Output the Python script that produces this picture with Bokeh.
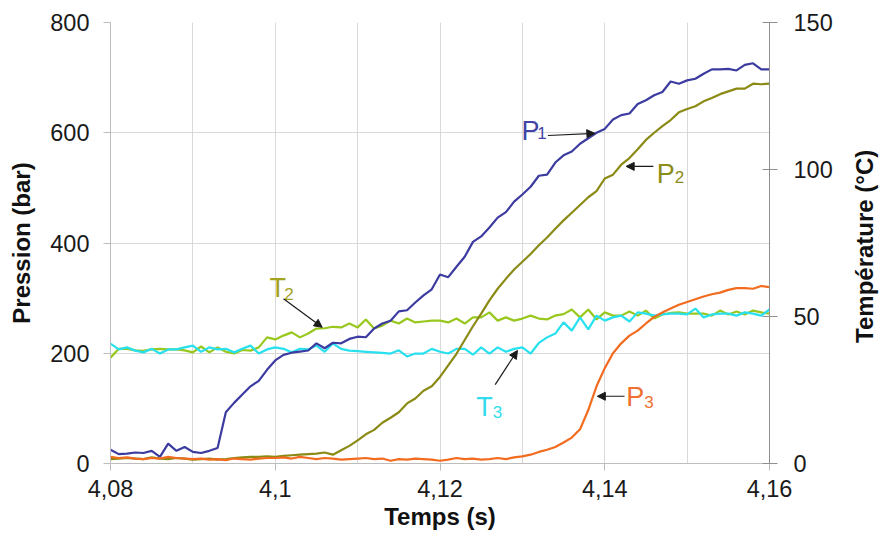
from bokeh.plotting import figure
from bokeh.layouts import row
from bokeh.models import (Range1d, LinearAxis, FixedTicker, Arrow, NormalHead,
                          ColumnDataSource)
from bokeh.core.properties import value
from bokeh.embed import file_html
from bokeh.resources import INLINE

# ---------------- data ----------------
time_s = [4.080, 4.081, 4.082, 4.083, 4.084, 4.085, 4.086, 4.087, 4.088, 4.089,
          4.090, 4.091, 4.092, 4.093, 4.094, 4.095, 4.096, 4.097, 4.098, 4.099,
          4.100, 4.101, 4.102, 4.103, 4.104, 4.105, 4.106, 4.107, 4.108, 4.109,
          4.110, 4.111, 4.112, 4.113, 4.114, 4.115, 4.116, 4.117, 4.118, 4.119,
          4.120, 4.121, 4.122, 4.123, 4.124, 4.125, 4.126, 4.127, 4.128, 4.129,
          4.130, 4.131, 4.132, 4.133, 4.134, 4.135, 4.136, 4.137, 4.138, 4.139,
          4.140, 4.141, 4.142, 4.143, 4.144, 4.145, 4.146, 4.147, 4.148, 4.149,
          4.150, 4.151, 4.152, 4.153, 4.154, 4.155, 4.156, 4.157, 4.158, 4.159,
          4.160]

p1_bar = [25, 17, 18, 20, 19, 23, 12, 36, 23, 30,
          21, 19, 23, 28, 93, 110, 125, 140, 150, 170,
          187, 197, 201, 203, 205, 218, 209, 219, 218, 226,
          230, 229, 245, 254, 259, 276, 278, 292, 305, 316,
          343, 338, 357, 375, 402, 412, 428, 446, 456, 475,
          488, 502, 522, 524, 546, 559, 566, 580, 590, 600,
          607, 624, 632, 635, 652, 659, 668, 674, 693, 689,
          695, 698, 707, 715, 715, 716, 713, 723, 726, 715,
          715]

p2_bar = [8, 9, 10, 9, 8, 11, 9, 8, 10, 9,
          7, 8, 9, 7, 8, 10, 11, 12, 12, 13,
          12, 14, 15, 16, 17, 18, 20, 16, 24, 32,
          42, 53, 61, 74, 83, 93, 109, 118, 132, 140,
          157, 178, 199, 224, 249, 272, 296, 317, 335, 352,
          366, 380, 396, 410, 426, 441, 455, 469, 483, 494,
          517, 524, 542, 554, 570, 587, 600, 612, 623, 637,
          643, 648, 657, 663, 670, 675, 680, 680, 689, 688,
          689]

p3_bar = [12, 10, 11, 9, 8, 10, 9, 12, 10, 9,
          8, 9, 7, 8, 6, 9, 8, 7, 9, 10,
          10, 11, 9, 12, 10, 8, 10, 9, 7, 8,
          9, 10, 8, 9, 5, 8, 7, 9, 8, 7,
          5, 7, 10, 8, 9, 7, 8, 10, 8, 11,
          13, 16, 21, 25, 30, 38, 47, 62, 97, 140,
          173, 200, 218, 232, 241, 254, 266, 274, 281, 288,
          293, 298, 303, 307, 310, 315, 318, 318, 317, 322,
          320]

t2_degc = [36.0, 39.0, 39.0, 38.5, 38.3, 38.8, 39.0, 38.8, 38.8, 38.5,
           37.8, 39.8, 37.8, 39.5, 38.0, 37.4, 38.6, 38.4, 39.5, 42.9,
           42.2, 43.5, 44.6, 42.9, 44.2, 45.9, 46.0, 46.5, 46.3, 47.6,
           46.3, 49.0, 45.9, 46.9, 48.6, 47.6, 49.3, 48.0, 48.3, 48.6,
           48.6, 48.0, 49.3, 47.6, 49.7, 49.7, 51.4, 48.6, 49.7, 48.6,
           49.3, 50.3, 49.3, 49.0, 50.3, 50.8, 52.4, 49.7, 52.4, 49.0,
           51.4, 50.3, 50.3, 51.7, 50.3, 52.0, 49.3, 50.7, 51.2, 51.4,
           51.0, 51.0, 51.0, 50.3, 52.0, 50.7, 51.7, 50.7, 52.0, 51.4,
           51.0]

t3_degc = [40.8, 38.8, 39.5, 38.4, 37.8, 39.0, 37.4, 38.8, 38.8, 39.5,
           40.1, 38.0, 39.5, 38.8, 39.0, 37.8, 39.0, 40.1, 37.4, 38.8,
           39.5, 39.0, 37.8, 39.0, 38.8, 40.1, 38.0, 40.8, 39.0, 38.4,
           38.2, 38.0, 37.8, 37.6, 37.4, 38.5, 36.4, 37.4, 37.4, 39.0,
           38.0, 37.4, 39.0, 39.0, 37.0, 39.5, 37.4, 39.5, 38.0, 39.0,
           39.5, 37.4, 41.0, 42.9, 44.2, 48.0, 45.2, 49.7, 45.6, 50.3,
           48.6, 49.7, 50.3, 48.3, 51.4, 51.0, 50.3, 50.7, 51.0, 51.0,
           50.7, 52.7, 49.7, 50.7, 51.0, 51.0, 50.3, 51.4, 51.0, 50.3,
           52.4]

x_grid_ticks = [4.08, 4.09, 4.10, 4.11, 4.12, 4.13, 4.14, 4.15, 4.16]
x_ticks = [4.08, 4.10, 4.12, 4.14, 4.16]
x_tick_labels = ["4,08", "4,1", "4,12", "4,14", "4,16"]
p_ticks = [0, 200, 400, 600, 800]
t_ticks = [0, 50, 100, 150]

x_title = "Temps (s)"
y_title = "Pression (bar)"
y2_title = "Température  (°C)"

# annotations (series labels with subscripts and arrows)
lab_main = ["P", "P", "P", "T", "T"]
lab_sub = ["1", "2", "3", "2", "3"]
lab_main_x = [4.1299, 4.1463, 4.1426, 4.0993, 4.1244]
lab_main_y = [604, 526, 120, 319, 102]
lab_sub_x = [4.1318, 4.1485, 4.1448, 4.1011, 4.1264]
lab_sub_y = [599, 519, 111, 308, 93]
lab_colors = ["#4343a6", "#8c8c18", "#f07030", "#a3a322", "#33dcec"]

arr_x0 = [4.1331, 4.1459, 4.1424, 4.1010, 4.1267]
arr_y0 = [595, 539, 122, 299, 143]
arr_x1 = [4.1388, 4.1426, 4.1391, 4.1057, 4.1294]
arr_y1 = [599, 539, 122, 247, 205]

FONT = "Liberation Sans"
C_P1, C_P2, C_P3 = "#3c3ca0", "#8a8a14", "#f36b1f"
C_T2, C_T3 = "#98c81e", "#28e0ee"

# ---------------- main figure ----------------
p = figure(width=840, height=535, output_backend="svg", toolbar_location=None,
           x_range=Range1d(4.08, 4.16), y_range=Range1d(0, 800),
           min_border_left=110, min_border_right=71,
           min_border_top=22, min_border_bottom=72)
p.extra_y_ranges = {"temp": Range1d(0, 150)}
p.outline_line_color = None
p.background_fill_color = "white"
p.border_fill_color = "white"

p.xgrid.ticker = FixedTicker(ticks=x_grid_ticks)
p.ygrid.ticker = FixedTicker(ticks=p_ticks)
for g in (p.xgrid[0], p.ygrid[0]):
    g.grid_line_color = "#d9d9d9"
    g.grid_line_width = 1

xa = p.xaxis[0]
xa.ticker = FixedTicker(ticks=x_ticks)
ov = {}
for k, s in zip(x_ticks, x_tick_labels):
    ov[k] = s
    ov[str(k)] = s
xa.major_label_overrides = ov
xa.axis_label = x_title
xa.major_label_standoff = 9
xa.axis_label_standoff = 3

ya = p.yaxis[0]
ya.ticker = FixedTicker(ticks=p_ticks)
ya.axis_label = y_title
ya.major_label_standoff = 14
ya.axis_label_standoff = 12

ra = LinearAxis(y_range_name="temp", ticker=FixedTicker(ticks=t_ticks))
p.add_layout(ra, "right")
ra.major_label_standoff = 16
ra.major_tick_in = 7
ra.major_tick_out = 8
ra.axis_line_color = "#8f8f8f"
ra.major_tick_line_color = "#8f8f8f"

for ax in (xa, ya, ra):
    ax.minor_tick_line_color = None
    ax.major_label_text_font = FONT
    ax.major_label_text_font_size = "23.5px"
    ax.major_label_text_color = "#1a1a1a"
    ax.axis_label_text_font = FONT
    ax.axis_label_text_font_size = "24px"
    ax.axis_label_text_font_style = "bold"
    ax.axis_label_text_color = "#111111"
for ax in (xa, ya):
    ax.axis_line_color = "#bdbdbd"
    ax.major_tick_line_color = "#bdbdbd"
    ax.major_tick_in = 0
    ax.major_tick_out = 7

# ---------------- series ----------------
lw = 2.2
p.line(time_s, t2_degc, y_range_name="temp", line_color=C_T2, line_width=lw)
p.line(time_s, t3_degc, y_range_name="temp", line_color=C_T3, line_width=lw)
p.line(time_s, p1_bar, line_color=C_P1, line_width=lw)
p.line(time_s, p2_bar, line_color=C_P2, line_width=lw)
p.line(time_s, p3_bar, line_color=C_P3, line_width=lw)

# ---------------- annotations ----------------
src_main = ColumnDataSource(dict(x=lab_main_x, y=lab_main_y, text=lab_main, color=lab_colors))
src_sub = ColumnDataSource(dict(x=lab_sub_x, y=lab_sub_y, text=lab_sub, color=lab_colors))
p.text(x="x", y="y", text="text", source=src_main, text_color="color",
       text_font=value(FONT), text_font_size="27px",
       text_baseline="alphabetic", text_align="left")
p.text(x="x", y="y", text="text", source=src_sub, text_color="color",
       text_font=value(FONT), text_font_size="17px",
       text_baseline="alphabetic", text_align="left")

for xs, ys, xe, ye in zip(arr_x0, arr_y0, arr_x1, arr_y1):
    p.add_layout(Arrow(x_start=xs, y_start=ys, x_end=xe, y_end=ye,
                       line_color="#1a1a1a", line_width=1.2,
                       end=NormalHead(size=8, fill_color="#1a1a1a",
                                      line_color="#1a1a1a", line_width=1)))

# ---------------- right-hand title strip (reads bottom-to-top) ----------------
q = figure(width=40, height=535, output_backend="svg", toolbar_location=None,
           x_range=Range1d(0, 1), y_range=Range1d(0, 150),
           min_border_left=37, min_border_right=0,
           min_border_top=22, min_border_bottom=72)
q.outline_line_color = None
q.background_fill_color = "white"
q.border_fill_color = "white"
q.grid.visible = False
q.xaxis.visible = False
qa = q.yaxis[0]
qa.ticker = FixedTicker(ticks=[])
qa.axis_line_color = None
qa.major_tick_line_color = None
qa.minor_tick_line_color = None
qa.major_tick_in = 0
qa.major_tick_out = 0
qa.major_label_standoff = 0
qa.axis_label = y2_title
qa.axis_label_standoff = 0
qa.axis_label_text_font = FONT
qa.axis_label_text_font_size = "24px"
qa.axis_label_text_font_style = "bold"
qa.axis_label_text_color = "#111111"

layout = row(p, q, spacing=0)
open("out.html", "w").write(file_html(layout, INLINE))
